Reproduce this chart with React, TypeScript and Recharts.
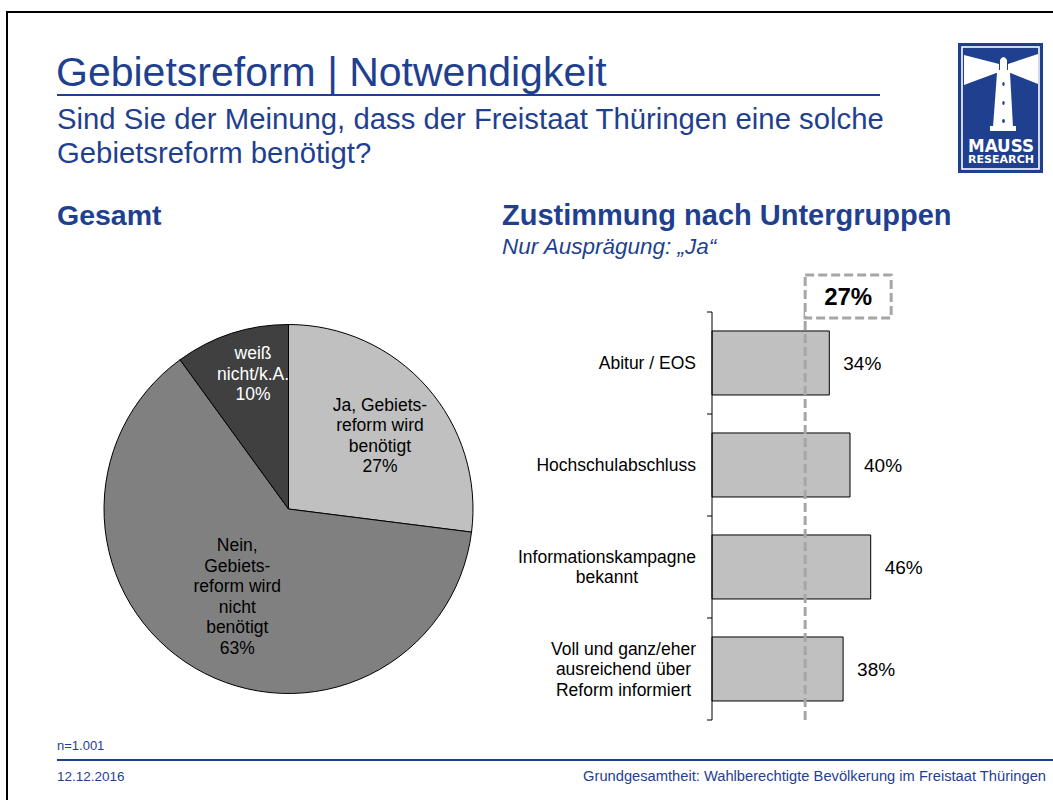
import React from 'react';
import { PieChart, Pie, Cell, BarChart, Bar, XAxis, YAxis, ReferenceLine, LabelList } from 'recharts';

// ---------- data ----------
const pieCategories = [
  'Ja, Gebiets-\nreform wird\nbenötigt',
  'Nein,\nGebiets-\nreform wird\nnicht\nbenötigt',
  'weiß\nnicht/k.A.',
];
const pieValues = [27, 63, 10];

const barCategories = [
  'Abitur / EOS',
  'Hochschulabschluss',
  'Informationskampagne\nbekannt',
  'Voll und ganz/eher\nausreichend über\nReform informiert',
];
const barValues = [34, 40, 46, 38];
const totalYes = 27;

const pieData = pieCategories.map((name, i) => ({ name, value: pieValues[i] }));
const barData = barCategories.map((name, i) => ({ name, value: barValues[i] }));

// ---------- style ----------
const BLUE = '#1F3F8F';
const FONT = "'Liberation Sans', Arial, Helvetica, sans-serif";
const PIE_COLORS = ['#C0C0C0', '#808080', '#404040'];
const PIE_TEXT = ['#000', '#000', '#fff'];
const LABEL_R = [0.636, 0.55, 0.757];
const LABEL_DA = [-2.6, 0.3, -3.3];
const PIE_FS = 17.5;
const PIE_LH = 20.5;

const BAR_W = 450;
const BAR_H = 470;
const BAR_MARGIN = { top: 52, right: 21, bottom: 10, left: 0 };
const Y_W = 222;
const PLOT_H = BAR_H - BAR_MARGIN.top - BAR_MARGIN.bottom;
const BAND = PLOT_H / barData.length;
const CAT_FS = 17.5;
const CAT_LH = 20.5;
const CAT_GAP = 16;

let ctx: CanvasRenderingContext2D | null = null;
function textWidth(s: string, font: string): number {
  if (!ctx) {
    const c = document.createElement('canvas');
    ctx = c.getContext('2d');
  }
  if (!ctx) return s.length * 8.5;
  ctx.font = font;
  return ctx.measureText(s).width;
}

const RADIAN = Math.PI / 180;

const renderPieLabel = (p: any) => {
  const { cx, cy, midAngle, outerRadius, index } = p;
  const ang = (midAngle + LABEL_DA[index]) * RADIAN;
  const r = outerRadius * LABEL_R[index];
  const x = cx + r * Math.cos(ang);
  const y = cy - r * Math.sin(ang);
  const lines = [...pieData[index].name.split('\n'), `${pieData[index].value}%`];
  return (
    <text
      key={`pl-${index}`}
      x={x}
      y={y}
      textAnchor="middle"
      fill={PIE_TEXT[index]}
      fontSize={PIE_FS}
      fontFamily={FONT}
    >
      {lines.map((l, i) => (
        <tspan key={i} x={x} y={y + (i - (lines.length - 1) / 2) * PIE_LH} dominantBaseline="central">
          {l}
        </tspan>
      ))}
    </text>
  );
};

const CatTick = (props: any) => {
  const { x, y, payload, index } = props;
  const lines = String(payload.value).split('\n');
  const font = `${CAT_FS}px 'Liberation Sans'`;
  const maxW = Math.max(...lines.map((l) => textWidth(l, font)));
  const tx = x - CAT_GAP - maxW / 2;
  const half = BAND / 2;
  return (
    <g>
      <line x1={x - 5} x2={x} y1={y - half} y2={y - half} stroke="#000" strokeWidth={1} />
      {index === barData.length - 1 && (
        <line x1={x - 5} x2={x} y1={y + half} y2={y + half} stroke="#000" strokeWidth={1} />
      )}
      <text textAnchor="middle" fontSize={CAT_FS} fontFamily={FONT} fill="#000">
        {lines.map((l, i) => (
          <tspan key={i} x={tx} y={y + (i - (lines.length - 1) / 2) * CAT_LH} dominantBaseline="central">
            {l}
          </tspan>
        ))}
      </text>
    </g>
  );
};

const renderRefLabel = (p: any) => {
  const vb = p.viewBox || {};
  const x = vb.x ?? 0;
  const y = vb.y ?? 0;
  const w = 86;
  const h = 43;
  return (
    <g>
      <rect
        x={x}
        y={y - 37}
        width={w}
        height={h}
        fill="#fff"
        stroke="#A6A6A6"
        strokeWidth={3}
        strokeDasharray="9 4"
      />
      <text
        x={x + w / 2}
        y={y - 37 + h / 2}
        textAnchor="middle"
        dominantBaseline="central"
        fontSize={24}
        fontWeight="bold"
        fontFamily={FONT}
        fill="#000"
      >
        {`${totalYes}%`}
      </text>
    </g>
  );
};

const Logo = () => (
  <g>
    <rect x={958} y={43} width={85} height={130} fill={BLUE} />
    <rect x={962} y={47} width={77} height={122} fill="none" stroke="#fff" strokeWidth={1.6} />
    <polygon points="964,55 999,64 999,72 964,85" fill="#fff" />
    <polygon points="1008,64 1038,54 1038,84 1008,72" fill="#fff" />
    <rect x={1000} y={60} width={7} height={10} fill="#fff" />
    <path d="M1000,60 Q1003.5,54 1007,60 Z" fill="#fff" />
    <rect x={995} y={70} width={17} height={3} fill="#fff" />
    <polygon points="997,73 1010,73 1013,127 993,127" fill="#fff" />
    <rect x={990} y={126} width={26} height={5} fill="#fff" />
    <ellipse cx={1003.5} cy={84} rx={1.2} ry={2} fill={BLUE} />
    <ellipse cx={1003.5} cy={103} rx={1.2} ry={2} fill={BLUE} />
    <ellipse cx={1003.5} cy={121} rx={1.4} ry={2} fill={BLUE} />
    <text
      x={968}
      y={152}
      fontSize={18}
      fontWeight={900}
      fontFamily="'DejaVu Sans', sans-serif"
      fill="#fff"
      textLength={66}
      lengthAdjust="spacingAndGlyphs"
    >
      MAUSS
    </text>
    <text
      x={968}
      y={163}
      fontSize={10}
      fontWeight={900}
      fontFamily="'DejaVu Sans', sans-serif"
      fill="#fff"
      textLength={66}
      lengthAdjust="spacingAndGlyphs"
    >
      RESEARCH
    </text>
  </g>
);

export default function App() {
  return (
    <div
      style={{
        position: 'absolute',
        left: 0,
        top: 0,
        width: 1053,
        height: 800,
        background: '#fff',
        overflow: 'hidden',
        fontFamily: FONT,
      }}
    >
      <svg width={1053} height={800} style={{ position: 'absolute', left: 0, top: 0 }}>
        {/* slide frame */}
        <line x1={6} y1={12} x2={1053} y2={12} stroke="#000" strokeWidth={2} />
        <line x1={7} y1={11} x2={7} y2={800} stroke="#000" strokeWidth={2} />
        {/* title */}
        <text x={56} y={86} fontSize={41} fill={BLUE} fontFamily={FONT}>
          Gebietsreform | Notwendigkeit
        </text>
        <line x1={57} y1={95} x2={880} y2={95} stroke={BLUE} strokeWidth={2.2} />
        <text x={57} y={129} fontSize={29.3} fill={BLUE} fontFamily={FONT}>
          Sind Sie der Meinung, dass der Freistaat Thüringen eine solche
        </text>
        <text x={57} y={163} fontSize={29.3} fill={BLUE} fontFamily={FONT}>
          Gebietsreform benötigt?
        </text>
        <Logo />
        {/* section headings */}
        <text x={57} y={225} fontSize={28.5} fontWeight="bold" fill={BLUE} fontFamily={FONT}>
          Gesamt
        </text>
        <text x={502} y={225} fontSize={29} fontWeight="bold" fill={BLUE} fontFamily={FONT}>
          Zustimmung nach Untergruppen
        </text>
        <text x={502} y={254} fontSize={22.5} fontStyle="italic" fill={BLUE} fontFamily={FONT}>
          Nur Ausprägung: „Ja“
        </text>
        {/* footer */}
        <text x={57} y={750} fontSize={13} fill={BLUE} fontFamily={FONT}>
          n=1.001
        </text>
        <line x1={57} y1={760} x2={1053} y2={760} stroke={BLUE} strokeWidth={2} />
        <text x={57} y={781} fontSize={13.5} fill={BLUE} fontFamily={FONT}>
          12.12.2016
        </text>
        <text x={1046} y={781} fontSize={14.7} fill={BLUE} fontFamily={FONT} textAnchor="end">
          Grundgesamtheit: Wahlberechtigte Bevölkerung im Freistaat Thüringen
        </text>
      </svg>

      <div style={{ position: 'absolute', left: 80, top: 300 }}>
        <PieChart width={420} height={420} margin={{ top: 0, right: 0, bottom: 0, left: 0 }}>
          <Pie
            data={pieData}
            dataKey="value"
            nameKey="name"
            cx={208.5}
            cy={209}
            outerRadius={184.5}
            startAngle={90}
            endAngle={-270}
            stroke="#000"
            strokeWidth={1}
            labelLine={false}
            label={renderPieLabel}
            isAnimationActive={false}
          >
            {pieData.map((d, i) => (
              <Cell key={d.name} fill={PIE_COLORS[i]} />
            ))}
          </Pie>
        </PieChart>
      </div>

      <div style={{ position: 'absolute', left: 490, top: 260 }}>
        <BarChart
          width={BAR_W}
          height={BAR_H}
          data={barData}
          layout="vertical"
          margin={BAR_MARGIN}
          barCategoryGap="18.6%"
        >
          <XAxis type="number" domain={[0, 60]} hide />
          <YAxis
            type="category"
            dataKey="name"
            width={Y_W}
            axisLine={{ stroke: '#000', strokeWidth: 1 }}
            tickLine={false}
            tickSize={0}
            tickMargin={0}
            interval={0}
            tick={<CatTick />}
          />
          <Bar dataKey="value" fill="#C0C0C0" stroke="#000" strokeWidth={1} isAnimationActive={false}>
            <LabelList
              dataKey="value"
              position="right"
              offset={14}
              formatter={(v: any) => `${v}%`}
              fill="#000"
              fontSize={19}
              fontFamily={FONT}
            />
          </Bar>
          <ReferenceLine
            x={totalYes}
            stroke="#A6A6A6"
            strokeWidth={3}
            strokeDasharray="9 4"
            label={renderRefLabel}
          />
        </BarChart>
      </div>
    </div>
  );
}
